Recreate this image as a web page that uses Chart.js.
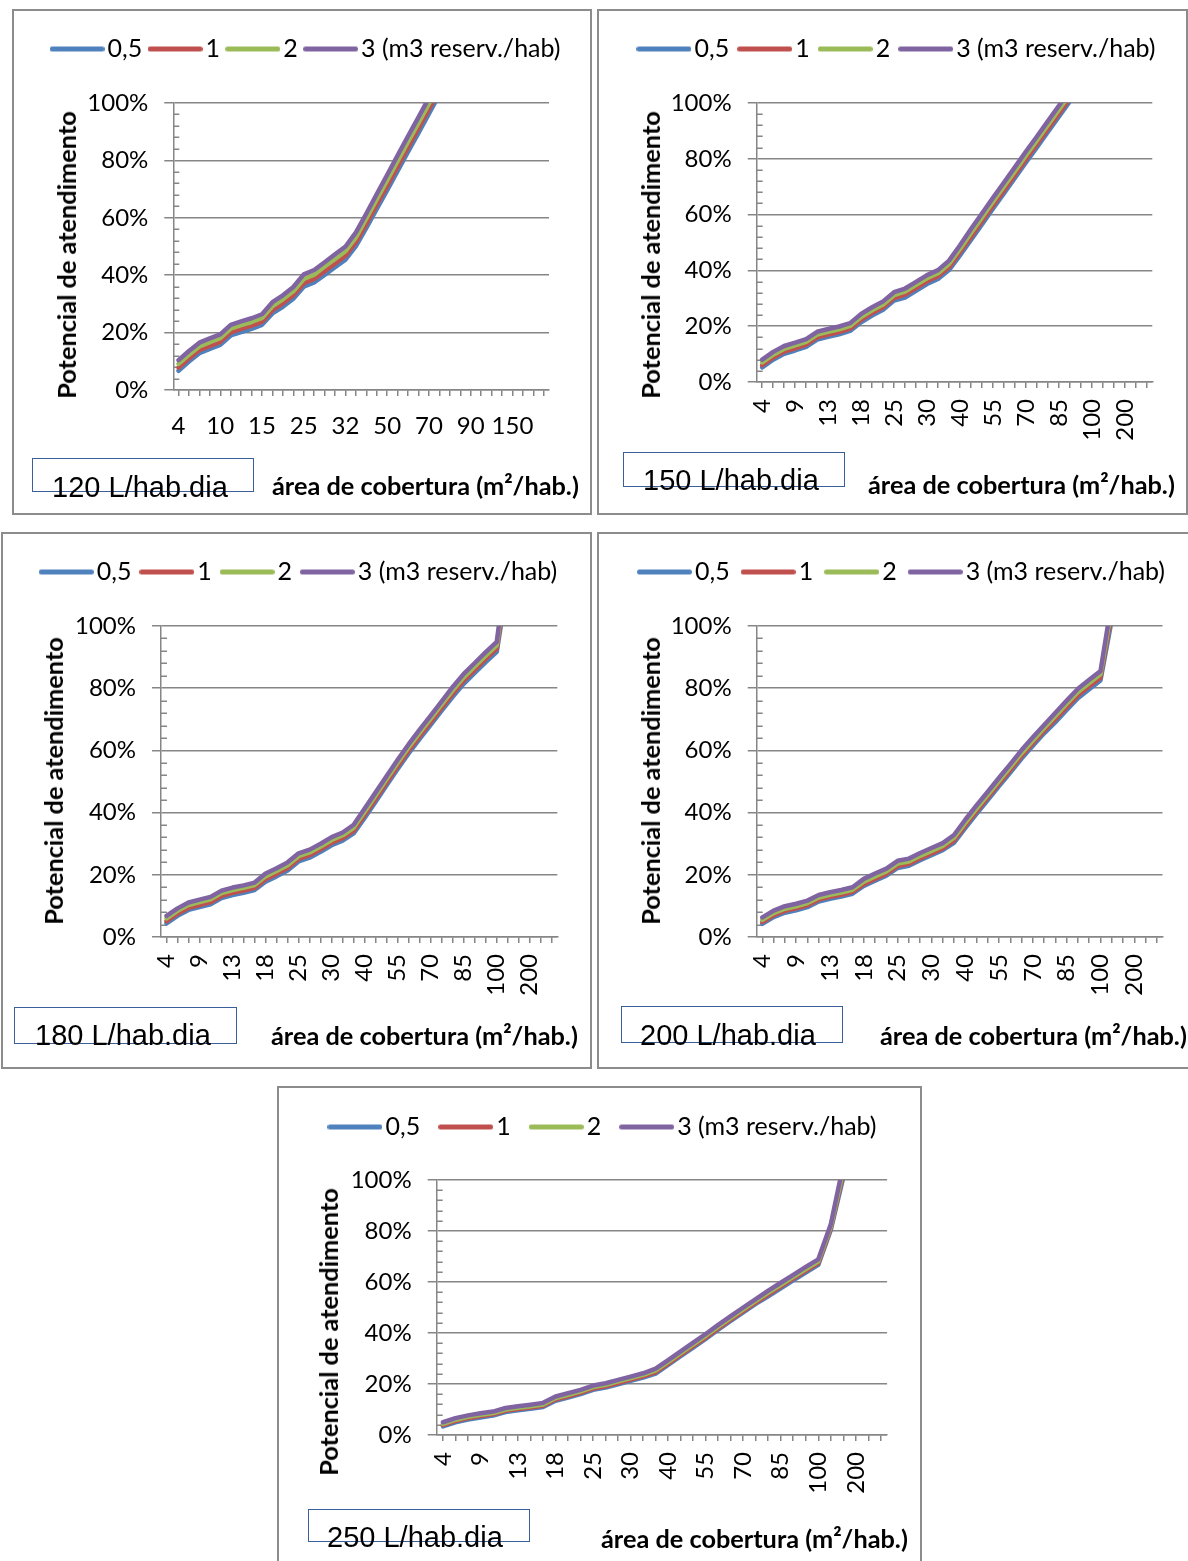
<!DOCTYPE html>
<html><head><meta charset="utf-8">
<script src="https://cdn.jsdelivr.net/npm/chart.js@4.4.1/dist/chart.umd.min.js"></script>
<style>
html,body{margin:0;padding:0;background:#fff;}
body{width:1188px;height:1561px;overflow:hidden;position:relative;font-family:Lato,sans-serif;}
.panel{position:absolute;border:2px solid #8c8c8c;box-sizing:border-box;background:#fff;}
canvas{position:absolute;}
.ytitle{position:absolute;font-weight:bold;font-size:25.3px;font-family:Lato;white-space:nowrap;transform:translate(-50%,-50%) rotate(-90deg);color:#000;}
.xtitle{position:absolute;font-weight:bold;font-size:25.3px;font-family:Lato;white-space:nowrap;transform:translateY(-50%);color:#000;}
.box{position:absolute;border:1px solid #3a5f9a;box-sizing:border-box;}
.boxtext{position:absolute;font-size:29px;font-family:"Liberation Sans",Arial,sans-serif;line-height:32px;white-space:nowrap;color:#000;}
</style></head><body>
<script>
// ---------- DATA ----------
const categories = ['4','6','8','9','10','12','13','14','15','18','20','22','25','26','28','30','32','35','40','45','50','55','60','65','70','75','80','85','90','95','100','120','150','200','250','300'];
const seriesNames = ['0,5','1','2','3 (m3 reserv./hab)'];
const demandLabels = ['120 L/hab.dia','150 L/hab.dia','180 L/hab.dia','200 L/hab.dia','250 L/hab.dia'];
const yTickValues = [0,20,40,60,80,100];
const yAxisTitle = 'Potencial de atendimento';
const xAxisTitle = 'área de cobertura (m²/hab.)';

// 120 L/hab.dia
const d120_r05 = [6.7,9.9,12.8,14.3,15.7,19.0,20.2,21.3,22.7,26.7,29.0,31.8,36.0,37.5,40.1,42.8,45.4,50.1,56.5,63.1,69.6,76.3,83.0,89.6,96.3,103.0,null,null,null,null,null,null,null,null,null,null];
const d120_r1  = [7.8,11.0,13.9,15.4,16.8,20.1,21.3,22.4,23.8,27.8,30.2,33.0,37.2,38.7,41.4,44.1,46.8,51.5,58.0,64.7,71.2,77.9,84.6,91.2,97.9,104.6,null,null,null,null,null,null,null,null,null,null];
const d120_r2  = [9.1,12.3,15.2,16.7,18.1,21.4,22.6,23.7,25.1,29.2,31.6,34.4,38.7,40.2,43.0,45.7,48.4,53.2,59.8,66.5,73.1,79.8,86.5,93.1,99.8,106.5,null,null,null,null,null,null,null,null,null,null];
const d120_r3  = [10.4,13.6,16.5,18.0,19.4,22.7,23.9,25.0,26.4,30.6,33.0,35.9,40.3,41.8,44.5,47.3,50.0,54.9,61.5,68.3,75.0,81.8,88.5,95.1,101.8,108.5,null,null,null,null,null,null,null,null,null,null];
// 150 L/hab.dia
const d150_r05 = [5.2,8.0,10.1,11.3,12.6,15.2,16.2,17.1,18.3,21.4,23.8,25.9,29.2,30.3,32.7,35.1,36.9,40.1,45.4,50.9,56.5,62.1,67.6,73.1,78.7,84.1,89.6,95.1,100.6,null,null,null,null,null,null,null];
const d150_r1  = [6.0,8.8,10.9,12.1,13.4,16.0,17.0,17.9,19.1,22.3,24.7,26.8,30.1,31.3,33.7,36.1,37.9,41.1,46.5,52.0,57.6,63.2,68.7,74.2,79.8,85.2,90.7,96.2,101.7,null,null,null,null,null,null,null];
const d150_r2  = [7.0,9.8,11.9,13.1,14.4,17.0,18.0,18.9,20.1,23.3,25.7,27.8,31.1,32.4,34.8,37.2,39.0,42.3,47.7,53.4,59.0,64.6,70.1,75.6,81.2,86.6,92.1,97.6,103.1,null,null,null,null,null,null,null];
const d150_r3  = [8.0,10.8,12.9,14.1,15.4,18.0,19.0,19.9,21.1,24.4,26.8,28.9,32.2,33.5,35.9,38.3,40.1,43.5,49.0,54.8,60.4,66.0,71.5,77.0,82.6,88.0,93.5,99.0,104.5,null,null,null,null,null,null,null];
// 180 L/hab.dia
const d180_r05 = [4.4,6.8,8.7,9.6,10.5,12.5,13.5,14.2,15.1,17.8,19.5,21.4,24.3,25.5,27.4,29.5,31.0,33.3,38.3,43.5,48.8,54.0,59.0,63.7,68.2,72.8,77.2,81.4,84.9,88.4,91.7,114,null,null,null,null];
const d180_r1  = [5.1,7.5,9.4,10.3,11.2,13.2,14.2,14.9,15.8,18.6,20.3,22.2,25.1,26.3,28.2,30.3,31.8,34.1,39.2,44.4,49.7,54.9,59.9,64.6,69.1,73.7,78.2,82.4,85.9,89.4,92.7,116,null,null,null,null];
const d180_r2  = [6.0,8.4,10.3,11.2,12.1,14.1,15.1,15.8,16.7,19.5,21.2,23.1,26.0,27.2,29.1,31.2,32.7,35.1,40.3,45.5,50.8,56.0,61.0,65.7,70.2,74.8,79.3,83.5,87.0,90.5,93.8,119,null,null,null,null];
const d180_r3  = [6.8,9.2,11.1,12.0,12.9,14.9,15.9,16.6,17.5,20.4,22.1,24.0,26.9,28.1,30.0,32.1,33.6,36.1,41.3,46.5,51.8,57.0,62.0,66.7,71.2,75.8,80.4,84.6,88.1,91.6,94.9,122,null,null,null,null];
// 200 L/hab.dia
const d200_r05 = [4.2,6.4,7.8,8.6,9.6,11.4,12.3,13.0,13.9,16.4,18.1,19.7,22.2,22.9,24.7,26.3,27.9,30.3,35.0,39.6,44.0,48.5,52.9,57.4,61.5,65.5,69.1,73.0,76.8,79.7,82.5,102,null,null,null,null];
const d200_r1  = [4.8,7.0,8.4,9.2,10.2,12.0,12.9,13.6,14.5,17.0,18.7,20.3,22.8,23.5,25.3,26.9,28.5,31.0,35.8,40.4,44.8,49.3,53.7,58.2,62.3,66.3,70.0,73.9,77.7,80.6,83.4,104,null,null,null,null];
const d200_r2  = [5.5,7.7,9.1,9.9,10.9,12.7,13.6,14.3,15.2,17.8,19.5,21.1,23.6,24.3,26.1,27.7,29.3,31.9,36.7,41.3,45.7,50.2,54.6,59.1,63.2,67.2,71.1,75.0,78.8,81.7,84.5,106,null,null,null,null];
const d200_r3  = [6.3,8.5,9.9,10.7,11.7,13.5,14.4,15.1,16.0,18.7,20.4,22.0,24.5,25.2,27.0,28.6,30.2,32.8,37.7,42.3,46.7,51.2,55.6,60.1,64.2,68.2,72.1,76.0,79.8,82.7,85.5,108,null,null,null,null];
// 250 L/hab.dia
const d250_r05 = [3.4,5.0,6.1,6.9,7.6,9.0,9.7,10.3,11.0,13.4,14.7,16.0,17.7,18.6,19.9,21.2,22.5,24.1,27.5,30.9,34.3,37.7,41.3,44.7,48.1,51.4,54.4,57.5,60.6,63.7,66.7,80.4,101,null,null,null];
const d250_r1  = [3.9,5.5,6.6,7.4,8.1,9.5,10.2,10.8,11.5,13.9,15.2,16.5,18.2,19.1,20.4,21.7,23.0,24.6,28.0,31.4,34.8,38.2,41.8,45.2,48.6,51.9,55.1,58.2,61.3,64.4,67.4,81.1,102.5,null,null,null];
const d250_r2  = [4.4,6.0,7.1,7.9,8.6,10.0,10.7,11.3,12.0,14.5,15.8,17.1,18.8,19.7,21.0,22.3,23.6,25.3,28.7,32.1,35.5,38.9,42.5,45.9,49.3,52.6,55.8,58.9,62.0,65.1,68.1,81.8,104,null,null,null];
const d250_r3  = [5.0,6.6,7.7,8.5,9.2,10.6,11.3,11.9,12.6,15.1,16.4,17.7,19.4,20.3,21.6,22.9,24.2,26.0,29.4,32.8,36.2,39.6,43.2,46.6,50.0,53.3,56.6,59.7,62.8,65.9,68.9,82.6,106,null,null,null];

// ---------- STYLE / LAYOUT ----------
const COLORS = ['#4F81BD','#C0504D','#9BBB59','#8064A2'];
const GRID = '#868686';
const FONT = 'Lato';
const TICK_SIZE = 24;
const LEG_SIZE = 25, LEG_BOX = 36, LEG_LINE = 55;
const overhang = (LEG_LINE - LEG_BOX) / 2;

const charts = [
  {series:[d120_r05,d120_r1,d120_r2,d120_r3], label:demandLabels[0], step:4, rot:0, legPad:14.8,
   border:[12,9,580,506], canvas:[12,10,580,505], area:[173.3,103,549,390], legend:[305,49],
   ytitle:[66,255], xtitle:[272,485], box:[32,458,222,34], btext:[52,497]},
  {series:[d150_r05,d150_r1,d150_r2,d150_r3], label:demandLabels[1], step:3, rot:90, legPad:17.5,
   border:[597,9,591,506], canvas:[597,10,590,505], area:[756.7,103,1158.7,382], legend:[896,49],
   ytitle:[650,255], xtitle:[868,484], box:[623,452,222,35], btext:[643,490]},
  {series:[d180_r05,d180_r1,d180_r2,d180_r3], label:demandLabels[2], step:3, rot:90, legPad:17.3,
   border:[1,532,591,537], canvas:[2,533,590,536], area:[161,626,561.8,937], legend:[298,572],
   ytitle:[53,781], xtitle:[271,1035], box:[14,1007,223,37], btext:[35,1045]},
  {series:[d200_r05,d200_r1,d200_r2,d200_r3], label:demandLabels[3], step:3, rot:90, legPad:20.5,
   border:[597,532,610,537], canvas:[597,533,600,536], area:[756.7,626,1173,937], legend:[901,572],
   ytitle:[650,781], xtitle:[880,1035], box:[621,1006,222,37], btext:[640,1045]},
  {series:[d250_r05,d250_r1,d250_r2,d250_r3], label:demandLabels[4], step:3, rot:90, legPad:27.5,
   border:[277,1086,645,500], canvas:[278,1087,643,480], area:[436.7,1180,893.9,1435], legend:[602,1127],
   ytitle:[328,1332], xtitle:[601,1538], box:[308,1509,222,33], btext:[327,1547]}
];

// legend line glyphs (wider than the legend box so text sits close to the line)
const legendGlyphs = COLORS.map((col) => {
  const g = document.createElement('canvas');
  g.width = LEG_LINE; g.height = 7;
  const x = g.getContext('2d');
  x.strokeStyle = col; x.lineWidth = 5; x.lineCap = 'round';
  x.beginPath(); x.moveTo(2.5, 3.5); x.lineTo(LEG_LINE - 2.5, 3.5); x.stroke();
  return g;
});

// legend: single row, fixed height, centred on a given x
const legendPlacePlugin = {
  id: 'legendPlace',
  beforeLayout(chart, args, opts) {
    const lg = chart.legend;
    if (lg && !lg.__wrapped) {
      const fit = lg.fit;
      lg.fit = function() { this.maxWidth = 5000; fit.call(this); this.height = opts.height; };
      lg.__wrapped = true;
    }
  },
  afterLayout(chart, args, opts) {
    const lg = chart.legend;
    if (!lg) return;
    lg.left = opts.cx - 1000; lg.right = opts.cx + 1000; lg.width = 2000;
  }
};
const minorTicksPlugin = {
  id: 'minorTicks',
  beforeDatasetsDraw(chart) {
    const ys = chart.scales.y, ctx = chart.ctx, left = chart.chartArea.left;
    ctx.save();
    ctx.strokeStyle = GRID; ctx.lineWidth = 1.5;
    for (let v = 4; v < 100; v += 4) {
      if (v % 20 === 0) continue;
      const py = Math.round(ys.getPixelForValue(v)) + 0.25;
      ctx.beginPath(); ctx.moveTo(left, py); ctx.lineTo(left + 6, py); ctx.stroke();
    }
    ctx.restore();
  }
};

Chart.defaults.font.family = FONT;
Chart.defaults.color = '#000';

function el(tag, cls, style, text) {
  const e = document.createElement(tag);
  if (cls) e.className = cls;
  Object.assign(e.style, style);
  if (text != null) e.textContent = text;
  document.body.appendChild(e);
  return e;
}

charts.forEach((c) => {
  const [bL,bT,bW,bH] = c.border;
  el('div','panel',{left:bL+'px',top:bT+'px',width:bW+'px',height:bH+'px'});
});

charts.forEach((c) => {
  const [L,T,W,H] = c.canvas;
  const [aL,aT,aR,aB] = c.area;
  const PR = L + W - aR;
  const yW = aL - L;
  const padTop = c.legend[1] - T - (c.legPad + LEG_SIZE/2);
  const legH = aT - T - padTop;
  const xH = T + H - aB;
  const cx = c.legend[0] - L + overhang / 2;

  const cv = el('canvas', null, {left:L+'px', top:T+'px', width:W+'px', height:H+'px'});
  cv.width = W; cv.height = H;

  new Chart(cv.getContext('2d'), {
    type: 'line',
    data: {
      labels: categories,
      datasets: c.series.map((data, k) => ({
        label: seriesNames[k], data,
        borderColor: COLORS[k], backgroundColor: COLORS[k],
        borderWidth: 4.5, pointRadius: 0, pointHoverRadius: 0, tension: 0,
        borderJoinStyle: 'round', borderCapStyle: 'round',
        clip: 0, order: 4 - k, spanGaps: false
      }))
    },
    options: {
      responsive: false, animation: false, devicePixelRatio: 1, events: [],
      layout: { padding: { left: 0, right: PR, top: padTop, bottom: 0 } },
      plugins: {
        legendPlace: { height: legH, cx: cx },
        tooltip: { enabled: false },
        legend: {
          position: 'top', align: 'center',
          labels: {
            usePointStyle: true, pointStyleWidth: LEG_BOX,
            padding: c.legPad, color: '#000',
            font: { family: FONT, size: LEG_SIZE },
            sort: (a, b) => a.datasetIndex - b.datasetIndex,
            generateLabels(chart) {
              const items = Chart.defaults.plugins.legend.labels.generateLabels(chart);
              items.forEach(it => { it.pointStyle = legendGlyphs[it.datasetIndex]; });
              return items;
            }
          }
        }
      },
      scales: {
        x: {
          type: 'category', offset: true,
          grid: { display: true, drawOnChartArea: false, drawTicks: true, tickLength: 6, color: GRID, lineWidth: 1.5, offset: false },
          border: { display: true, color: GRID, width: 1.5 },
          ticks: {
            autoSkip: false, maxRotation: c.rot, minRotation: c.rot,
            padding: c.rot ? 11 : 16, color: '#000',
            font: { family: FONT, size: TICK_SIZE },
            callback: (v, i) => (i % c.step === 0 ? categories[i] : '')
          },
          afterFit: (s) => { s.height = xH; }
        },
        y: {
          min: 0, max: 100,
          afterBuildTicks: (s) => { s.ticks = yTickValues.map(v => ({ value: v })); },
          grid: { color: GRID, lineWidth: 1.5, tickLength: 9, drawTicks: true },
          border: { display: true, color: GRID, width: 1.5 },
          ticks: { padding: 16, color: '#000', font: { family: FONT, size: TICK_SIZE }, callback: (v) => v + '%' },
          afterFit: (s) => { s.width = yW; }
        }
      }
    },
    plugins: [legendPlacePlugin, minorTicksPlugin]
  });

  el('div','ytitle',{left:c.ytitle[0]+'px', top:c.ytitle[1]+'px'}, yAxisTitle);
  el('div','xtitle',{left:c.xtitle[0]+'px', top:c.xtitle[1]+'px'}, xAxisTitle);
  el('div','box',{left:c.box[0]+'px', top:c.box[1]+'px', width:c.box[2]+'px', height:c.box[3]+'px'});
  el('div','boxtext',{left:c.btext[0]+'px', top:(c.btext[1]-26)+'px'}, c.label);
});
</script>
</body></html>
